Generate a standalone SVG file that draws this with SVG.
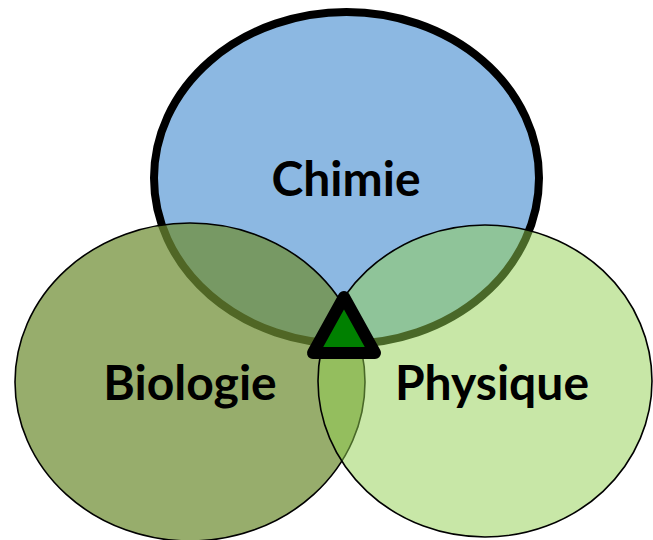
<svg xmlns="http://www.w3.org/2000/svg" width="653" height="540" viewBox="0 0 653 540">
<style>
.lbl{font-family:Lato,"Open Sans","Liberation Sans",sans-serif;font-weight:bold;font-size:48px;fill:#000;text-anchor:middle}
.thin{stroke:#000;stroke-width:1.6}
</style>
<rect width="653" height="540" fill="#fff"/>
<g id="chimie">
<ellipse cx="346.5" cy="178" rx="192.5" ry="166" fill="#8cb8e2" stroke="#000" stroke-width="8"/>
</g>
<g id="biologie">
<ellipse class="thin" cx="190" cy="382" rx="175" ry="159" fill="#6f8d33" fill-opacity="0.72"/>
</g>
<g id="physique">
<ellipse class="thin" cx="485" cy="381" rx="167" ry="156" fill="#92d050" fill-opacity="0.5"/>
</g>
<g id="centre">
<polygon points="344,297 313,353 375,353" fill="#008000" stroke="#000" stroke-width="12" stroke-linejoin="round"/>
</g>
<g id="labels">
<text class="lbl" x="346" y="196">Chimie</text>
<text class="lbl" x="190" y="400">Biologie</text>
<text class="lbl" x="492" y="400">Physique</text>
</g>
</svg>
